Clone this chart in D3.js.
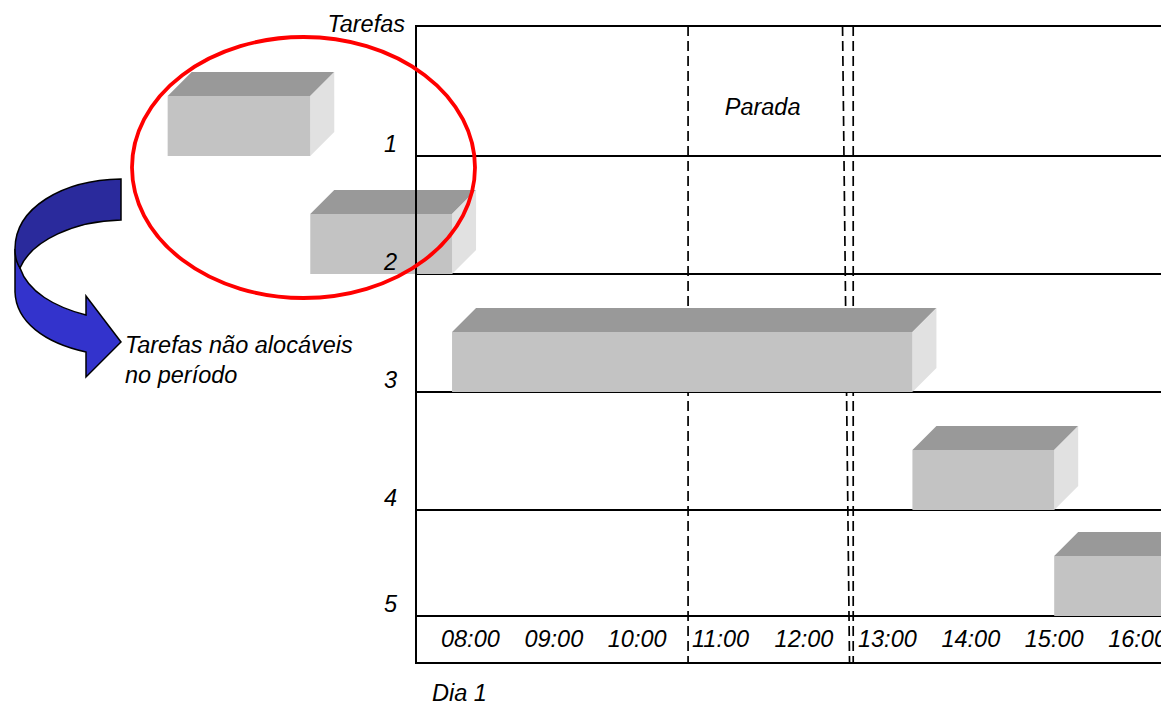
<!DOCTYPE html>
<html><head><meta charset="utf-8">
<script src="https://cdn.jsdelivr.net/npm/d3@7"></script>
<style>body{margin:0;background:#fff}text{font-family:"Liberation Sans",Arial,sans-serif;font-style:italic;fill:#000}</style>
</head><body>
<svg id="c" width="1161" height="706"></svg>
<script>
// Data
const tasks = [1, 2, 3, 4, 5];
const taskStart = [4.37, 6.08, 7.78, 13.30, 15.00]; // hours
const taskEnd   = [6.08, 7.78, 13.30, 15.00, 16.70];
const tickHours = [8, 9, 10, 11, 12, 13, 14, 15, 16];
const tickLabels = ["08:00","09:00","10:00","11:00","12:00","13:00","14:00","15:00","16:00"];
const paradaLines = [10.61, 12.51, 12.59];
const paradaLabel = "Parada";

const svg = d3.select("#c");
const x = d3.scaleLinear().domain([8, 16]).range([470.4, 1137.6]);
const y = d3.scaleLinear().domain([0, 1, 4, 5]).range([26, 156, 510, 616]);
const axisX = 416, rightX = 1161, bottomY = 663;
const boxH = 60, depth = 24;
const fs = 23.5;

// Dashed "parada" lines
svg.append("g").selectAll("line").data(paradaLines).join("line")
  .attr("x1", (d,i) => x(d) - (i===1 ? 4 : 0)).attr("x2", (d,i) => x(d) + (i===1 ? 3 : 0))
  .attr("y1", y(0)).attr("y2", bottomY)
  .attr("stroke", "#000").attr("stroke-width", 1.7).attr("stroke-dasharray", "10,5");

svg.append("text").attr("x", x((paradaLines[0] + paradaLines[2]) / 2) - 8).attr("y", 115)
  .attr("text-anchor", "middle").attr("font-size", fs).text(paradaLabel);

// Horizontal row lines
svg.append("g").selectAll("line").data([0, ...tasks]).join("line")
  .attr("x1", axisX).attr("x2", rightX).attr("y1", d => y(d)).attr("y2", d => y(d))
  .attr("stroke", "#000").attr("stroke-width", 2);
svg.append("line").attr("x1", axisX).attr("x2", rightX).attr("y1", bottomY).attr("y2", bottomY)
  .attr("stroke", "#000").attr("stroke-width", 2);

// 3D boxes
const boxes = svg.append("g").selectAll("g").data(tasks).join("g");
boxes.append("path").attr("fill", "#999999").attr("d", (d,i) => {
  const x0 = x(taskStart[i]), x1 = x(taskEnd[i]), yt = y(d) - boxH;
  return `M${x0},${yt}L${x1},${yt}L${x1+depth},${yt-depth}L${x0+depth},${yt-depth}Z`;
});
boxes.append("path").attr("fill", "#e1e1e1").attr("d", (d,i) => {
  const x1 = x(taskEnd[i]), yb = y(d), yt = yb - boxH;
  return `M${x1},${yt}L${x1+depth},${yt-depth}L${x1+depth},${yb-depth}L${x1},${yb}Z`;
});
boxes.append("rect").attr("fill", "#c3c3c3")
  .attr("x", (d,i) => x(taskStart[i])).attr("width", (d,i) => x(taskEnd[i]) - x(taskStart[i]))
  .attr("y", d => y(d) - boxH).attr("height", boxH);

// Vertical axis line
svg.append("line").attr("x1", axisX).attr("x2", axisX).attr("y1", y(0) - 1).attr("y2", bottomY + 1)
  .attr("stroke", "#000").attr("stroke-width", 2);

// Row labels
svg.append("g").selectAll("text").data(tasks).join("text")
  .attr("x", 397).attr("y", d => y(d) - 4).attr("text-anchor", "end").attr("font-size", fs)
  .text(d => d);
svg.append("text").attr("x", 405).attr("y", 32).attr("text-anchor", "end").attr("font-size", fs).text("Tarefas");

// Time tick labels
svg.append("g").selectAll("text").data(tickHours).join("text")
  .attr("x", d => x(d)).attr("y", 647).attr("text-anchor", "middle").attr("font-size", fs)
  .text((d,i) => tickLabels[i]);
svg.append("text").attr("x", 432).attr("y", 701).attr("font-size", fs).text("Dia 1");

// Curved arrow
svg.append("path").attr("fill", "#3333cc").attr("stroke", "#000").attr("stroke-width", 1.5)
  .attr("d", "M15,249 L15,292 C16,322 45,343 86,352 L86,377 L121,342 L86,296 L86,315 C55,307 28,292 20,268 Z");
svg.append("path").attr("fill", "#2a2a9c").attr("stroke", "#000").attr("stroke-width", 1.5)
  .attr("d", "M121,179 L121,220 C75,221 32,240 20,268 C16,262 15,256 15,249 C15,208 62,180 121,179 Z");
svg.append("text").attr("x", 125).attr("y", 353).attr("font-size", fs).text("Tarefas não alocáveis");
svg.append("text").attr("x", 125).attr("y", 383).attr("font-size", fs).text("no período");

// Red ellipse
svg.append("ellipse").attr("cx", 303.5).attr("cy", 167.5).attr("rx", 171.5).attr("ry", 130.5)
  .attr("fill", "none").attr("stroke", "#ff0000").attr("stroke-width", 3.8);
</script>
</body></html>
